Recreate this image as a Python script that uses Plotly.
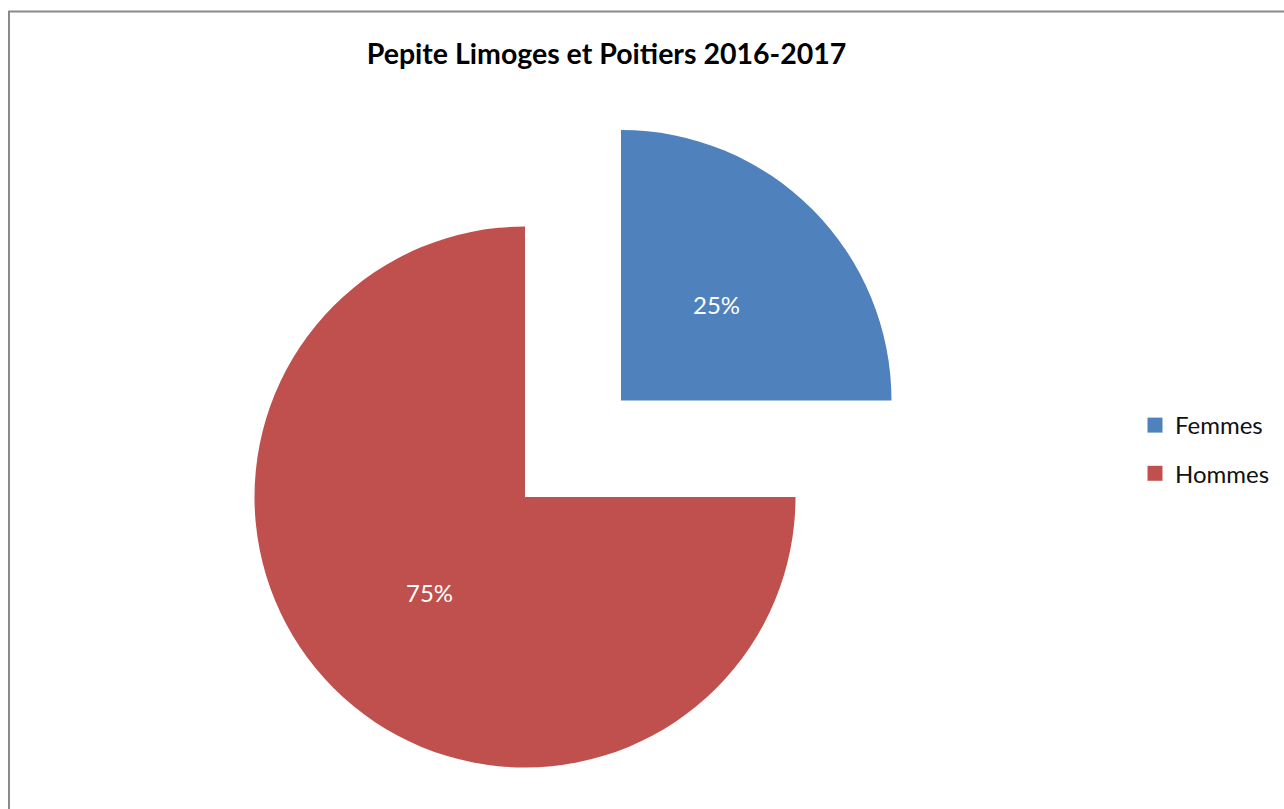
import math
import plotly.graph_objects as go

# ---- data ----
labels = ["Femmes", "Hommes"]
values = [25, 75]
colors = ["#4F81BD", "#C0504D"]
title_text = "Pepite Limoges et Poitiers 2016-2017"

W, H = 1284, 809
FONT = "Lato, 'Open Sans', sans-serif"

# pixel boxes (left, top, right, bottom) for each exploded slice
boxes = [(350.5, 130.0, 891.5, 671.0),   # Femmes (pulled out)
         (254.5, 226.5, 795.5, 767.5)]   # Hommes

total = sum(values)
fig = go.Figure()
annotations = []
cum = 0.0
for i, lab in enumerate(labels):
    l, t, r, b = boxes[i]
    fig.add_trace(go.Pie(
        labels=labels,
        values=values,
        sort=False,
        direction="clockwise",
        rotation=0,
        marker=dict(colors=[colors[j] if j == i else "rgba(0,0,0,0)" for j in range(len(labels))],
                    line=dict(width=0)),
        textinfo="none",
        hoverinfo="label+percent",
        showlegend=False,
        domain=dict(x=[l / W, r / W], y=[(H - b) / H, (H - t) / H]),
    ))
    # percentage label at half radius on the slice bisector (derived from the data)
    cx, cy, rad = (l + r) / 2, (t + b) / 2, (r - l) / 2
    theta = 2 * math.pi * (cum + values[i] / 2) / total
    px = cx + 0.5 * rad * math.sin(theta)
    py = cy - 0.5 * rad * math.cos(theta)
    annotations.append(dict(
        text=f"{round(100 * values[i] / total)}%", x=px / W, y=1 - py / H,
        xref="paper", yref="paper", showarrow=False, xanchor="center", yanchor="middle",
        font=dict(color="white", size=24, family=FONT)))
    cum += values[i]

# legend entries
for lab, col in zip(labels, colors):
    fig.add_trace(go.Scatter(
        x=[None], y=[None], mode="markers", name=lab, legendgroup=lab,
        marker=dict(symbol="square", size=15, color=col),
    ))

fig.update_layout(
    width=W, height=H,
    margin=dict(l=0, r=0, t=0, b=0),
    paper_bgcolor="white", plot_bgcolor="white",
    xaxis=dict(visible=False), yaxis=dict(visible=False),
    title=dict(text="<b>" + title_text + "</b>", x=606.5 / W, xanchor="center",
               y=1 - 54 / H, yanchor="middle", yref="container",
               font=dict(family=FONT, size=28.5, color="black")),
    legend=dict(x=1135 / W, xanchor="left", y=1 - 403 / H, yanchor="top",
                font=dict(family=FONT, size=24, color="#111111"),
                traceorder="grouped", tracegroupgap=14,
                bgcolor="rgba(0,0,0,0)"),
    annotations=annotations,
    shapes=[dict(type="rect", xref="paper", yref="paper",
                 x0=9 / W, x1=1.02, y0=-0.02, y1=1 - 11.5 / H,
                 line=dict(color="#8A8A8A", width=2), fillcolor="rgba(0,0,0,0)",
                 layer="below")],
)

fig.write_html("out.html")
